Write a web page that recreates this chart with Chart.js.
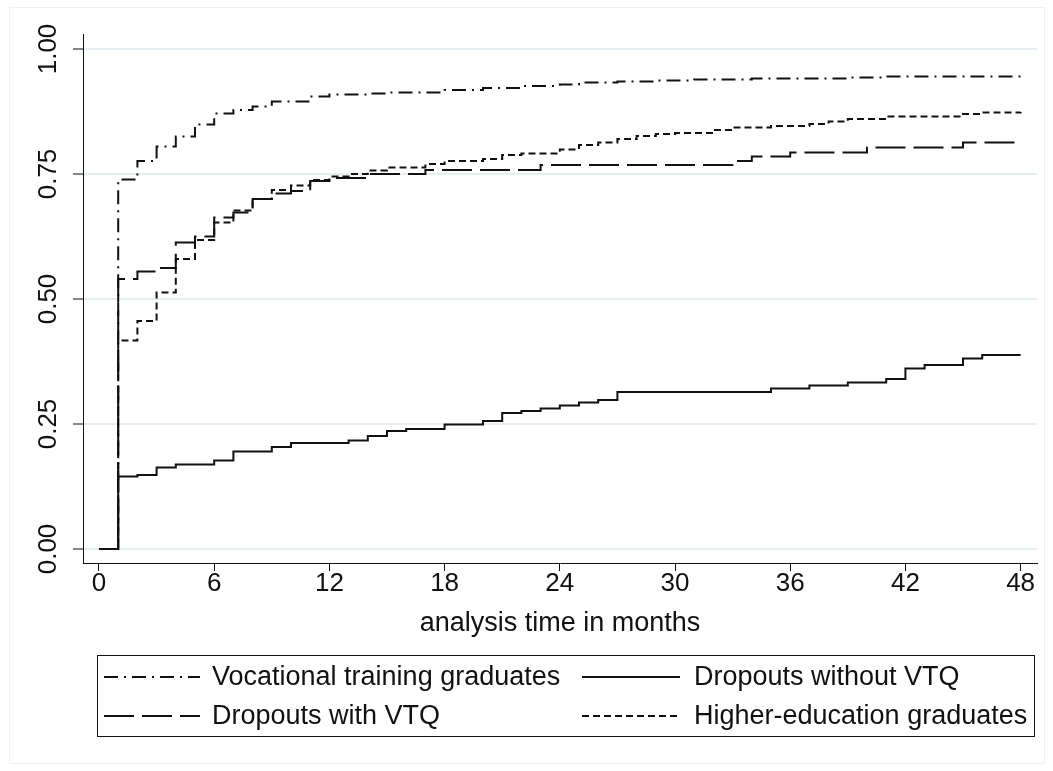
<!DOCTYPE html>
<html>
<head>
<meta charset="utf-8">
<script src="https://cdn.jsdelivr.net/npm/chart.js@4.4.1/dist/chart.umd.min.js"></script>
<style>
html,body{margin:0;padding:0;background:#fff;}
canvas{display:block;}
</style>
</head>
<body>
<canvas id="c" width="1053" height="771"></canvas>
<script>
// ---- data ----
const seriesNames = ["Vocational training graduates", "Dropouts without VTQ", "Dropouts with VTQ", "Higher-education graduates"];

const monthsVoc = [0,1,2,3,4,5,6,7,8,9,11,12,14,15,18,20,22,24,25,27,29,31,34,39,41,48];
const valuesVoc = [0,0.739,0.776,0.805,0.825,0.849,0.871,0.878,0.885,0.895,0.905,0.909,0.911,0.913,0.918,0.922,0.926,0.929,0.933,0.935,0.937,0.939,0.941,0.943,0.945,0.945];

const monthsNoVtq = [0,1,2,3,4,6,7,9,10,13,14,15,16,18,20,21,22,23,24,25,26,27,35,37,39,41,42,43,45,46,48];
const valuesNoVtq = [0,0.145,0.148,0.163,0.169,0.177,0.195,0.204,0.212,0.217,0.226,0.236,0.240,0.249,0.256,0.272,0.276,0.281,0.287,0.293,0.298,0.314,0.321,0.327,0.333,0.340,0.361,0.368,0.381,0.388,0.388];

const monthsVtq = [0,1,2,3,4,5,6,7,8,9,10,11,12,14,17,23,33,34,36,40,45,48];
const valuesVtq = [0,0.540,0.555,0.562,0.613,0.625,0.663,0.673,0.700,0.711,0.716,0.736,0.742,0.750,0.758,0.768,0.776,0.785,0.793,0.803,0.813,0.813];

const monthsHe = [0,1,2,3,4,5,6,7,8,9,10,11,12,13,14,15,17,18,20,21,22,24,25,26,27,28,29,30,32,33,35,37,38,39,41,45,46,48];
const valuesHe = [0,0.417,0.456,0.513,0.580,0.618,0.653,0.677,0.700,0.718,0.727,0.738,0.745,0.750,0.757,0.763,0.770,0.776,0.780,0.788,0.791,0.799,0.808,0.813,0.820,0.826,0.830,0.832,0.838,0.843,0.846,0.850,0.855,0.860,0.865,0.870,0.873,0.874];

const xTickValues = [0,6,12,18,24,30,36,42,48];
const yTickValues = [0,0.25,0.5,0.75,1];
const xAxisTitle = "analysis time in months";

// ---- styling ----
const FONT = '"Liberation Sans", Arial, Helvetica, sans-serif';
const INK = '#111111';
const GRID = '#e6eef1';

function pts(ms, vs){ return ms.map((m,i)=>({x:m, y:vs[i]})); }

const styles = [
  {dash:[14,6,2,6]},
  {dash:[]},
  {dash:[30,8]},
  {dash:[7,4]}
];

const dataSets = [
  {label: seriesNames[0], data: pts(monthsVoc, valuesVoc)},
  {label: seriesNames[1], data: pts(monthsNoVtq, valuesNoVtq)},
  {label: seriesNames[2], data: pts(monthsVtq, valuesVtq)},
  {label: seriesNames[3], data: pts(monthsHe, valuesHe)}
].map((d,i)=>Object.assign(d, {
  borderColor: INK,
  borderWidth: 2,
  borderDash: styles[i].dash,
  borderCapStyle: 'butt',
  borderJoinStyle: 'miter',
  stepped: 'before',
  pointRadius: 0,
  fill: false,
  tension: 0
}));

const decorPlugin = {
  id: 'decor',
  beforeDraw(chart){
    const ctx = chart.ctx;
    ctx.save();
    ctx.fillStyle = '#ffffff';
    ctx.fillRect(0,0,chart.width,chart.height);
    ctx.strokeStyle = '#eef2f4';
    ctx.lineWidth = 1;
    ctx.strokeRect(9.5, 7.5, 1035, 756);
    ctx.restore();
  },
  afterDraw(chart){
    const ctx = chart.ctx;
    const ys = chart.scales.y;
    // rotated y tick labels
    ctx.save();
    ctx.fillStyle = INK;
    ctx.font = '26px ' + FONT;
    ctx.textAlign = 'center';
    ctx.textBaseline = 'middle';
    yTickValues.forEach(v=>{
      const py = ys.getPixelForValue(v);
      ctx.save();
      ctx.translate(49, py);
      ctx.rotate(-Math.PI/2);
      ctx.fillText(v.toFixed(2), 0, 0);
      ctx.restore();
    });
    ctx.restore();

    // legend
    ctx.save();
    ctx.strokeStyle = INK;
    ctx.lineWidth = 1;
    ctx.setLineDash([]);
    ctx.strokeRect(97.5, 655.5, 937, 81);
    const cols = [{x0:104, x1:200, tx:212}, {x0:582, x1:680, tx:694}];
    const rows = [677, 716];
    const order = [0,1,2,3];
    order.forEach((di, k)=>{
      const ds = chart.data.datasets[di];
      const c = cols[k%2], r = rows[Math.floor(k/2)];
      ctx.save();
      ctx.strokeStyle = ds.borderColor;
      ctx.lineWidth = ds.borderWidth;
      ctx.setLineDash(ds.borderDash);
      ctx.beginPath();
      ctx.moveTo(c.x0, r);
      ctx.lineTo(c.x1, r);
      ctx.stroke();
      ctx.restore();
      ctx.fillStyle = INK;
      ctx.font = '27px ' + FONT;
      ctx.textAlign = 'left';
      ctx.textBaseline = 'middle';
      ctx.fillText(ds.label, c.tx, r + 1);
    });
    ctx.restore();
  }
};

new Chart(document.getElementById('c'), {
  type: 'line',
  data: { datasets: dataSets },
  options: {
    responsive: false,
    animation: false,
    devicePixelRatio: 1,
    layout: { padding: { left: 0, top: 34, right: 16, bottom: 0 } },
    plugins: { legend: { display: false }, tooltip: { enabled: false } },
    scales: {
      x: {
        type: 'linear',
        min: -0.8333,
        max: 48.854,
        afterFit(scale){ scale.height = 208; },
        afterBuildTicks(scale){ scale.ticks = xTickValues.map(v=>({value:v})); },
        grid: { drawOnChartArea: false, drawTicks: true, tickLength: 8, tickColor: INK, tickWidth: 1 },
        border: { display: true, color: INK, width: 1 },
        ticks: { color: INK, font: { family: FONT, size: 26 }, padding: -3, maxRotation: 0, minRotation: 0, autoSkip: false,
          callback: v => String(v) },
        title: { display: true, text: xAxisTitle, color: INK, font: { family: FONT, size: 27 }, padding: { top: 0, bottom: 131 } }
      },
      y: {
        type: 'linear',
        min: -0.028,
        max: 1.03,
        afterFit(scale){ scale.width = 83; },
        afterBuildTicks(scale){ scale.ticks = yTickValues.map(v=>({value:v})); },
        grid: { drawOnChartArea: true, color: GRID, lineWidth: 2, drawTicks: true, tickLength: 10, tickColor: INK, tickWidth: 1 },
        border: { display: true, color: INK, width: 1 },
        ticks: { display: false }
      }
    }
  },
  plugins: [decorPlugin]
});
</script>
</body>
</html>
